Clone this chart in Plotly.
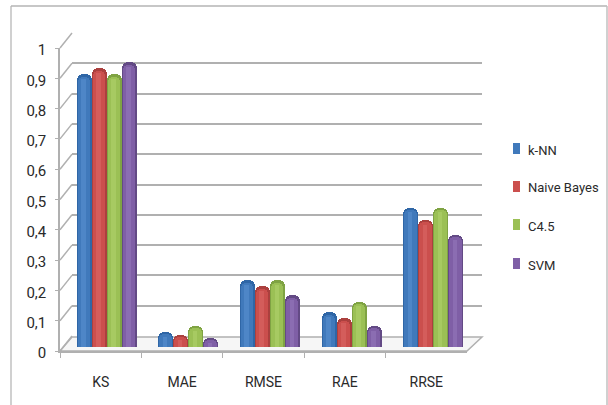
import plotly.graph_objects as go

categories = ["KS", "MAE", "RMSE", "RAE", "RRSE"]
knn = [0.90, 0.05, 0.22, 0.115, 0.46]
naive_bayes = [0.92, 0.04, 0.20, 0.095, 0.42]
c45 = [0.90, 0.07, 0.22, 0.15, 0.46]
svm = [0.94, 0.03, 0.17, 0.07, 0.37]
y_ticks = [0, 0.1, 0.2, 0.3, 0.4, 0.5, 0.6, 0.7, 0.8, 0.9, 1]
y_labels = ["0", "0,1", "0,2", "0,3", "0,4", "0,5", "0,6", "0,7", "0,8", "0,9", "1"]

W, H = 608, 405
FONT = "Roboto, sans-serif"
TXT = "#2a2a2a"
GRID = "#b0b0b0"

def dx(a, b):
    return [a / W, b / W]

def dy(top, bottom):
    return [1 - bottom / H, 1 - top / H]

series = [
    ("k-NN", knn, "#2f66a6", "#4079bb", "#5f97d6"),
    ("Naive Bayes", naive_bayes, "#ab403e", "#cb4f4d", "#e06f6c"),
    ("C4.5", c45, "#7fa343", "#9bc055", "#b5d774"),
    ("SVM", svm, "#634a85", "#7f5fa6", "#9b7fc2"),
]

fig = go.Figure()
bw = 0.184
for i, (name, vals, dark, main, light) in enumerate(series):
    off = (i - 2) * bw
    fig.add_trace(go.Bar(x=categories, y=vals, name=name, width=bw, offset=off,
                         marker=dict(color=dark, line_width=0, cornerradius=6),
                         xaxis="x3", yaxis="y3", showlegend=False))
    fig.add_trace(go.Bar(x=categories, y=[v - 0.008 for v in vals], name=name, width=bw * 0.82,
                         offset=off + bw * 0.07,
                         marker=dict(color=main, line_width=0, cornerradius=5),
                         xaxis="x3", yaxis="y3", showlegend=False))
    fig.add_trace(go.Bar(x=categories, y=[v - 0.016 for v in vals], name=name, width=bw * 0.3,
                         offset=off + bw * 0.3,
                         marker=dict(color=light, opacity=0.45, line_width=0),
                         xaxis="x3", yaxis="y3", showlegend=False))

# anchor traces so every axis is drawn
fig.add_trace(go.Scatter(x=categories, y=[None] * 5, xaxis="x", yaxis="y", showlegend=False, hoverinfo="skip"))
fig.add_trace(go.Scatter(x=categories, y=[None] * 5, xaxis="x2", yaxis="y2", showlegend=False, hoverinfo="skip"))

def px_line(x0, y0, x1, y1, color=GRID, width=1.5):
    return dict(type="line", xref="paper", yref="paper", layer="below",
                x0=x0 / W, x1=x1 / W, y0=1 - y0 / H, y1=1 - y1 / H,
                line=dict(color=color, width=width))

shapes = [
    px_line(11, 6, 11, 405, "#c0c0c0", 1.5),
    px_line(11, 6, 607, 6, "#b4b4b4", 1.5),
    px_line(607, 6, 607, 405, "#c0c0c0", 1.5),
    dict(type="path", xref="paper", yref="paper", layer="below", fillcolor="#f6f6f6",
         path=f"M {60/W} {1-351/H} L {467/W} {1-351/H} L {482/W} {1-337/H} L {72/W} {1-337/H} Z",
         line=dict(color=GRID, width=1.5)),
]
for t in y_ticks:
    yf = 351 - 303 * t
    shapes.append(px_line(60, yf, 72, yf - 15))

# legend: swatch and label per series
legend_y = [149, 187, 225, 264]
annotations = []
for (name, vals, dark, main, light), ly in zip(series, legend_y):
    shapes.append(dict(type="rect", xref="paper", yref="paper", layer="above",
                       x0=513 / W, x1=520 / W, y0=1 - (ly + 5) / H, y1=1 - (ly - 6) / H,
                       fillcolor=main, line_width=0))
    annotations.append(dict(text=name, xref="paper", yref="paper", x=526 / W, y=1 - (ly + 1) / H,
                            xanchor="left", yanchor="middle", showarrow=False,
                            font=dict(size=13, family=FONT, color=TXT)))

fig.update_layout(
    width=W, height=H, margin=dict(l=0, r=0, t=0, b=0, autoexpand=False),
    paper_bgcolor="white", plot_bgcolor="rgba(0,0,0,0)",
    barmode="overlay", bargap=0, shapes=shapes, annotations=annotations,
    font=dict(family=FONT, color=TXT),
    showlegend=False,
    # front axes: labels, ticks
    xaxis=dict(domain=dx(60, 467), range=[-0.5, 4.5], type="category", categoryorder="array",
               categoryarray=categories, anchor="y", showgrid=False, showline=True,
               linecolor=GRID, linewidth=2, ticks="outside", ticklen=5, tickcolor=GRID,
               tickson="boundaries", tickfont=dict(size=14), ticklabelstandoff=17, fixedrange=True),
    yaxis=dict(domain=dy(48, 351), range=[0, 1], anchor="x", tickvals=y_ticks, ticktext=y_labels,
               showgrid=False, showline=True, linecolor=GRID, linewidth=1.5, ticks="outside",
               ticklen=3, tickcolor=GRID, tickfont=dict(size=15), zeroline=False,
               ticklabelstandoff=6, ticklabelshift=2),
    # back wall gridlines
    xaxis2=dict(domain=dx(72, 482), range=[0, 1], anchor="y2", visible=False),
    yaxis2=dict(domain=dy(33, 336), range=[0, 1], anchor="x2", tickvals=y_ticks, showticklabels=False,
                showgrid=True, gridcolor=GRID, gridwidth=2, zeroline=False, ticks=""),
    # bars
    xaxis3=dict(domain=dx(66, 474), range=[-0.5, 4.5], type="category", categoryorder="array",
                categoryarray=categories, anchor="y3", visible=False),
    yaxis3=dict(domain=dy(44, 347), range=[0, 1], anchor="x3", visible=False),
)
fig.write_html("out.html", config={"displayModeBar": False},
               post_script="document.body.style.margin='0';")
